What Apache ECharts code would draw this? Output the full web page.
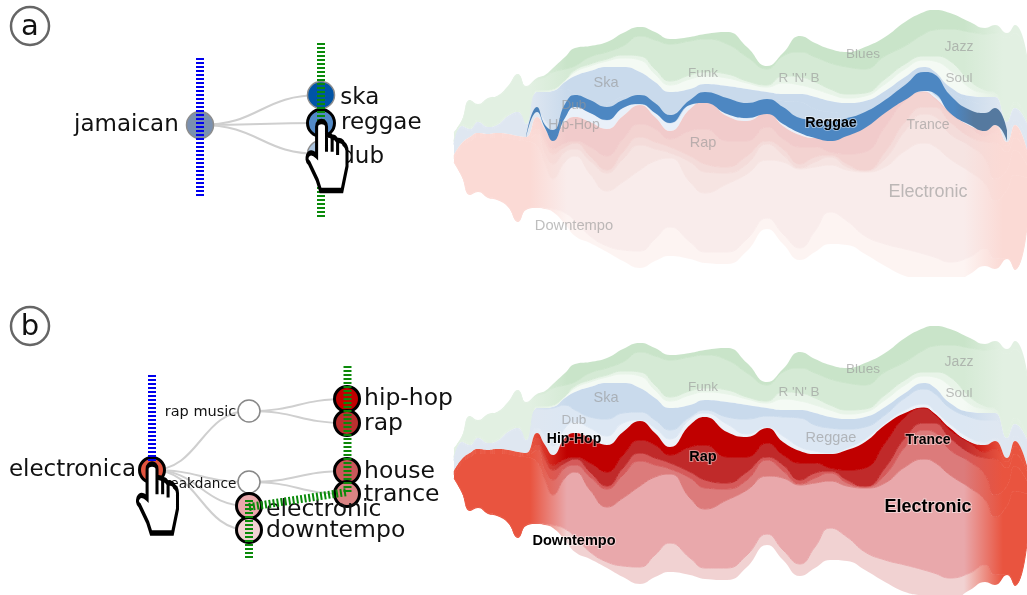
<!DOCTYPE html>
<html><head><meta charset="utf-8">
<style>html,body{margin:0;padding:0;background:#fff}#c{width:1027px;height:595px}</style>
<script src="https://cdn.jsdelivr.net/npm/echarts@6/dist/echarts.min.js"></script>
</head><body><div id="c"></div>
<script>
var timeSteps=[454,462,470,478,488,497,508,518,526,537,545,553,565,575,590,607,623,640,655,670,690,705,727,747,767,783,800,815,830,847,865,885,905,924,934,950,970,985,995,1007,1015,1027];
var jazzTop=[132,120,100,104,98,96,86,74,86,78,75,68,57,48,46,42,33,27,32,39,37,34,32,47,66,53,36,43,49,52,47,37,22,12,10,13,22,28,25,33,25,55];
var bluesTop=[133,121,101,105,99,97,87,75,87,80,77,72,69,66,57,52,46,36,40,44,41,39,44,57,69,56,52,57,63,67,69,56,46,34,30,29,32,34,33,38,33,60];
var soulTop=[141,124,127,120,125,123,114,110,122,90,90,89,80,70,64,59,55,56,69,81,75,72,74,81,85,76,77,82,89,94,93,79,64,56,56,61,81,90,92,115,102,118];
var rnbTop=[142,125,128,121,126,124,115,111,123,91,91,90,81,72,66,61,58,60,74,85,79,76,78,83,87,83,85,89,94,98,96,84,69,60,61,70,88,93,94,118,104,120];
var skaTop=[143,126,129,122,127,125,116,112,124,92,92,91,82,76,71,67,67,72,82,92,89,84,86,89,92,94,94,97,101,103,101,91,77,67,71,87,96,97,97,122,108,123];
var reggaeTop=[144,127,130,123,128,126,117,113,125,93,93,92,89,94,101,103,97,96,104,114,101,94,101,103,100,101,102,109,112,113,111,99,82,73,77,92,101,104,104,124,110,125];
var dubTop=[145,128,131,124,129,127,118,114,123,112,120,130,112,106,112,120,107,104,112,123,103,97,108,118,111,120,131,135,137,132,123,107,94,88,94,108,122,126,122,138,120,140];
var hipHopTop=[155,143,137,133,134,133,134,136,137,117,129,139,122,117,122,129,116,105,117,131,109,101,116,121,112,126,135,138,138,134,126,109,97,92,97,112,126,129,125,142,125,150];
var rapTop=[156,144,138,134,135,134,135,137,138,122,139,149,143,141,147,156,139,124,129,139,131,129,141,141,127,139,147,147,152,154,152,127,101,92,98,114,127,136,133,146,130,152];
var tranceTop=[157,145,139,135,136,135,136,138,139,129,144,154,147,143,156,170,152,137,142,147,156,164,167,156,141,149,164,157,155,164,171,152,122,107,107,122,137,142,143,152,138,155];
var houseTop=[158,146,140,136,137,136,137,139,140,134,154,164,152,149,161,173,159,145,149,153,162,172,173,164,144,155,168,162,157,167,171,159,131,114,116,134,146,159,179,170,150,165];
var electronicTop=[159,147,141,137,138,137,138,140,141,146,164,179,162,156,174,191,182,170,161,158,182,193,184,174,160,162,169,167,165,170,172,167,151,143,146,159,172,184,201,190,175,178];
var downtempoTop=[162,176,194,191,197,199,206,221,209,207,208,209,213,221,236,246,250,251,239,227,242,252,252,239,218,234,248,231,212,221,236,244,249,254,257,262,257,249,259,258,269,227];
var downtempoBottom=[163,177,195,192,198,200,207,222,210,208,209,212,224,236,243,252,261,268,261,256,259,263,264,251,229,244,260,252,244,245,254,266,276,280,282,284,274,266,269,259,270,228];
var highlightSteps=[526,537,545,553,565,575,590,607,623,640,655,670,690,705,727,747,767,783,800,815,830,847,865,885,905,924,934,950,970,985,995,1007];
var highlightUpper=[137,107,125,130,104,95,100,107,100,95,103,115,100,92,98,103,99,107,118,120,121,118,112,100,85,72,74,95,110,113,108,130];
var highlightLower=[138,112,128,141,118,107,113,120,108,104,113,123,105,103,114,118,114,124,133,138,141,136,128,113,100,91,93,113,125,131,125,141];
var layerNames=['Jazz','Blues','Soul','R \'N\' B','Ska','Reggae','Dub','Hip-Hop','Rap','Trance','House','Electronic','Downtempo'];
var layerEdges=[jazzTop,bluesTop,soulTop,rnbTop,skaTop,reggaeTop,dubTop,hipHopTop,rapTop,tranceTop,houseTop,electronicTop,downtempoTop,downtempoBottom];

var treeNames=['jamaican','ska','reggae','dub','electronica','rap music','breakdance','hip-hop','rap','house','trance','electronic','downtempo'];
var treeNodeX=[200,321,321,321,152,249,249,347,347,347,347,249,249];
var treeNodeY=[125,95,123,154,470,411,482,399,423,471,494,506,530];
var treeEdges=[[0,1],[0,2],[0,3],[4,5],[4,6],[4,11],[4,12],[5,7],[5,8],[6,9],[6,10]];
var nodeFill=['#7a90b0','#0054a6','#5289c6','#a9c3df','#e2553f','#fff','#fff','#c00000','#b93030','#c9585a','#d98383','#e9a8ab','#f1d2d2'];
var nodeRing=['#8d8d8d','#8d8d8d','#000','#8d8d8d','#000','#888','#888','#000','#000','#000','#000','#000','#000'];
var hatchBlue=[[[200,58],[200,197]],[[152,375],[152,466]]];
var hatchGreen=[[[321,43],[321,217]],[[347.5,366],[347.5,493]],[[249,500],[249,558]],[[249,507],[347,492]]];
var handPoints=[[327,156],[157.5,498.5]];

var gridA=0,gridB=1,gridT=2;
var paletteA=['#c9e4c9','#d5ead5','#e8f4e8','#f4faf4','#c9daec','#c9daec','#e9f0f9','#f1cbcb','#f3d3d1','#f4dcda','#f6e4e2','#f9eceb','#fdf4f2'];
var paletteB=['#c9e4c9','#d5ead5','#e8f4e8','#f4faf4','#c9daec','#dce7f3','#ecf2f9','#c00000','#c02a2a','#d55a5a','#dc7b7b','#e9a8ab','#f1d2d2'];
function solidFor(i,redSolid){return i<4?'#e2f0e2':(i<7?'#dfe7f1':redSolid);}
function fade(col,solid){
  return {type:'linear',x:0,y:0,x2:1,y2:0,colorStops:[
    {offset:0,color:solid},{offset:.133,color:solid},{offset:.197,color:col},
    {offset:.89,color:col},{offset:.958,color:solid},{offset:1,color:solid}]};
}
function stream(grid,palette,redSolid,stack){
  var out=[];
  var pts=function(fn){return timeSteps.map(function(x,k){return [x,fn(k)];});};
  out.push({type:'line',xAxisIndex:grid,yAxisIndex:grid,stack:stack,symbol:'none',smooth:.5,silent:true,z:1,
    lineStyle:{width:0},data:pts(function(k){return jazzTop[k];})});
  layerNames.forEach(function(nm,i){
    var g=fade(palette[i],solidFor(i,redSolid));
    var isEdgeLayer=(i===3||i===6||i===12);
    out.push({type:'line',name:nm,xAxisIndex:grid,yAxisIndex:grid,stack:stack,symbol:'none',smooth:.5,silent:true,z:1,
      lineStyle:{width:isEdgeLayer?0:1,color:g},areaStyle:{opacity:1,color:g},
      data:pts(function(k){
        var top=layerEdges[0][k];
        for(var j=1;j<=i;j++) top=Math.max(top,layerEdges[j][k]);
        return Math.max(0.01,layerEdges[i+1][k]-top);
      })});
  });
  return out;
}
var series=[].concat(stream(gridA,paletteA,'#fbdad5','sa'),stream(gridB,paletteB,'#e9543f','sb'));
series.push({type:'line',xAxisIndex:gridA,yAxisIndex:gridA,stack:'hl',symbol:'none',smooth:.5,silent:true,z:2,lineStyle:{width:0},
  data:highlightSteps.map(function(x,k){return [x,highlightUpper[k]];})});
series.push({type:'line',name:'Reggae highlight',xAxisIndex:gridA,yAxisIndex:gridA,stack:'hl',symbol:'none',smooth:.5,silent:true,z:2,
  lineStyle:{width:0},areaStyle:{opacity:1,color:{type:'linear',x:0,y:0,x2:1,y2:0,colorStops:[
    {offset:0,color:'#4a7fb5'},{offset:.08,color:'#4d87c2'},{offset:.89,color:'#4d87c2'},{offset:.93,color:'#55799f'},{offset:1,color:'#55799f'}]}},
  data:highlightSteps.map(function(x,k){return [x,highlightLower[k]-highlightUpper[k]];})});

series.push({type:'custom',xAxisIndex:gridT,yAxisIndex:gridT,silent:true,z:3,
  data:treeEdges.map(function(e){return [treeNodeX[e[0]],treeNodeY[e[0]],treeNodeX[e[1]],treeNodeY[e[1]]];}),
  renderItem:function(p,api){
    var a=api.coord([api.value(0),api.value(1)]),b=api.coord([api.value(2),api.value(3)]);
    var mx=(a[0]+b[0])/2;
    return {type:'bezierCurve',shape:{x1:a[0],y1:a[1],x2:b[0],y2:b[1],cpx1:mx,cpy1:a[1],cpx2:mx,cpy2:b[1]},
      style:{fill:'none',stroke:'#cfcfcf',lineWidth:2}};
  }});
var sideLeft={0:1,4:1,5:1,6:1};
var labelDrop={1:3,2:0,3:3,7:0,8:1,9:1,10:1,11:4,12:1,0:0,4:0,5:1,6:2};
var labelGap={0:7,4:2,1:5,2:5,3:5,7:3,8:3,9:3,10:3,11:3,12:3,5:1,6:1};
series.push({type:'scatter',xAxisIndex:gridT,yAxisIndex:gridT,silent:true,z:4,
  data:treeNames.map(function(n,i){
    var small=(i===5||i===6);
    var r=i<4?27:(small?22:25);
    return {value:[treeNodeX[i],treeNodeY[i]],name:n,symbolSize:r,
      itemStyle:{color:nodeFill[i],borderColor:nodeRing[i],borderWidth:(nodeRing[i]==='#000')?3:1.5,opacity:1},
      label:{show:true,formatter:n,position:sideLeft[i]?'left':'right',distance:labelGap[i],color:'#111',offset:[0,labelDrop[i]],
        fontFamily:'DejaVu Sans',fontSize:small?(i===5?14.5:13.6):(i>6?23.5:23),lineHeight:26}};
  })});
function hatch(seg,color,z){return {type:'line',xAxisIndex:gridT,yAxisIndex:gridT,silent:true,z:z,symbol:'none',animation:false,
  data:seg,lineStyle:{color:color,width:8,type:[2,2],cap:'butt'}};}
hatchBlue.forEach(function(s){series.push(hatch(s,'#0000ee',5));});
hatchGreen.forEach(function(s){series.push(hatch(s,'#0a8a0a',5));});
series.push({type:'scatter',xAxisIndex:gridT,yAxisIndex:gridT,silent:true,z:6,data:handPoints,symbolSize:[40,69],
  symbol:'path://M-4.7 5.7 C-4.7 -1 5.3 -1 5.3 5.7 L5.3 14 C8 13.5 10 14.5 11 15.7 C13 15.5 15 17 16 19 C19 18.5 22 20 22.7 22.3 C25 24 26 26 26 29 L26 44 L21 67.3 L-0.7 67.3 L-4 57.3 L-12.3 40.7 C-15 38.5 -14.5 35.5 -14 34 C-12 30 -9 30 -4.7 34 Z M5.3 16 L5.3 30 M11 17 L11 30 M16.5 20 L16.5 33',
  itemStyle:{color:'#fff',borderColor:'#000',borderWidth:4,opacity:1}});

var grayText='rgba(150,150,150,.62)';
var labelsGray=[['Blues',863,54,13.5],['Jazz',959,47,14],['Funk',703,73,13.5],['Soul',959,78,13.5],['R \'N\' B',799,78,13.5],['Ska',606,83,14.5],['Dub',574,105,13.5],['Hip-Hop',574,125,14],['Rap',703,143,14.5],['Trance',928,125,14],['Electronic',928,192,18],['Downtempo',574,226,14.7],
  ['Blues',863,369,13.5],['Jazz',959,362,14],['Funk',703,387,13.5],['Soul',959,393,13.5],['R \'N\' B',799,392,13.5],['Ska',606,398,14.5],['Dub',574,420,13.5],['Reggae',831,438,14.5]];
var labelsDark=[['Reggae',831,123,14.3],['Hip-Hop',574,439,14],['Rap',703,457,14.5],['Trance',928,440,14],['Electronic',928,507,18],['Downtempo',574,541,14.5]];
var graphic=[];
labelsGray.forEach(function(l){graphic.push({type:'text',z:20,silent:true,style:{text:l[0],x:l[1],y:l[2],align:'center',verticalAlign:'middle',font:l[3]+'px "Liberation Sans"',fill:grayText}});});
labelsDark.forEach(function(l){graphic.push({type:'text',z:20,silent:true,style:{text:l[0],x:l[1],y:l[2],align:'center',verticalAlign:'middle',font:'bold '+l[3]+'px "Liberation Sans"',fill:'#000',stroke:'rgba(255,255,255,.45)',lineWidth:2}});});
[['a',30,26],['b',30,326]].forEach(function(b){
  graphic.push({type:'circle',z:20,silent:true,shape:{cx:b[1],cy:b[2],r:19},style:{fill:'#fff',stroke:'#666',lineWidth:2.5}});
  graphic.push({type:'text',z:21,silent:true,style:{text:b[0],x:b[1],y:b[2]+1,align:'center',verticalAlign:'middle',font:'29px "DejaVu Sans"',fill:'#111'}});
});

var chart=echarts.init(document.getElementById('c'),null,{renderer:'canvas'});
chart.setOption({animation:false,backgroundColor:'#fff',
  grid:[{left:454,top:0,width:573,height:277},{left:454,top:316,width:573,height:279},{left:0,top:0,width:454,height:595}],
  xAxis:[{type:'time',gridIndex:0,min:454,max:1027,show:false},{type:'time',gridIndex:1,min:454,max:1027,show:false},{type:'value',gridIndex:2,min:0,max:454,show:false}],
  yAxis:[{type:'value',gridIndex:0,min:0,max:277,inverse:true,show:false},{type:'value',gridIndex:1,min:0,max:279,inverse:true,show:false},{type:'value',gridIndex:2,min:0,max:595,inverse:true,show:false}],
  series:series,graphic:graphic});
</script></body></html>
